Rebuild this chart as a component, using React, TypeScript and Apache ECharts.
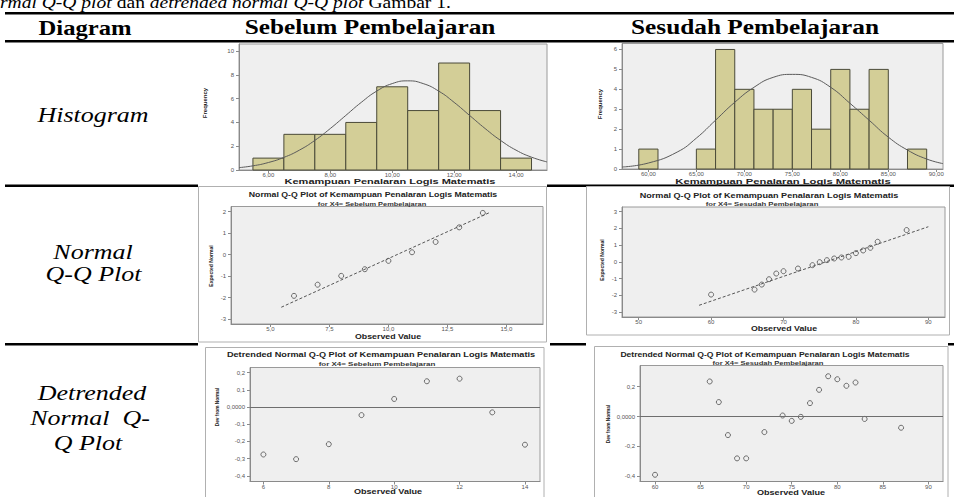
import React, { useEffect, useRef } from "react";
import * as echarts from "echarts";

// ---------- Histogram: Sebelum Pembelajaran ----------
const hist1Centers = [6, 7, 8, 9, 10, 11, 12, 13, 14];
const hist1Counts = [1, 3, 3, 4, 7, 5, 9, 5, 1];
const hist1BinWidth = 1;
const hist1CurveX = [5.05, 5.5, 6, 6.5, 7, 7.5, 8, 8.5, 9, 9.5, 10, 10.5, 11, 11.5, 12, 12.5, 13, 13.5, 14, 14.5, 15];
const hist1CurveY = [0.2, 0.35, 0.63, 1.06, 1.67, 2.49, 3.49, 4.59, 5.69, 6.64, 7.27, 7.5, 7.27, 6.64, 5.69, 4.59, 3.49, 2.49, 1.67, 1.08, 0.68];
const hist1XTicks = [6, 8, 10, 12, 14];
const hist1YTicks = [0, 2, 4, 6, 8, 10];

// ---------- Histogram: Sesudah Pembelajaran ----------
const hist2Centers = [60, 66, 68, 70, 72, 74, 76, 78, 80, 82, 84, 88];
const hist2Counts = [1, 1, 6, 4, 3, 3, 4, 2, 5, 3, 5, 1];
const hist2BinWidth = 2;
const hist2CurveX = [57.25, 60, 63, 65, 67, 69, 71, 73, 75, 77, 79, 81, 83, 85, 87, 89, 90.7];
const hist2CurveY = [0.1, 0.3, 0.85, 1.55, 2.45, 3.35, 4.1, 4.6, 4.75, 4.6, 4.1, 3.3, 2.45, 1.6, 0.95, 0.5, 0.27];
const hist2XTicks = [60, 65, 70, 75, 80, 85, 90];
const hist2YTicks = [0, 1, 2, 3, 4, 5, 6];

// ---------- Normal Q-Q: Sebelum ----------
const qq1Observed = [6, 7, 8, 9, 10, 11, 12, 13, 14];
const qq1Expected = [-1.92, -1.4, -0.99, -0.68, -0.29, 0.11, 0.59, 1.27, 1.94];
const qq1LineX = [5.46, 14.31];
const qq1LineY = [-2.45, 1.97];
const qq1XTicks = [5, 7.5, 10, 12.5, 15];
const qq1YTicks = [-3, -2, -1, 0, 1, 2];

// ---------- Normal Q-Q: Sesudah ----------
const qq2Observed = [60, 66, 67, 68, 69, 70, 72, 74, 75, 76, 77, 78, 79, 80, 81, 82, 83, 87];
const qq2Expected = [-1.96, -1.66, -1.36, -1.04, -0.7, -0.56, -0.4, -0.2, -0.02, 0.1, 0.2, 0.26, 0.3, 0.52, 0.68, 0.84, 1.2, 1.9];
const qq2LineX = [58.34, 90];
const qq2LineY = [-2.6, 2.1];
const qq2XTicks = [50, 60, 70, 80, 90];
const qq2YTicks = [-3, -2, -1, 0, 1, 2, 3];

// ---------- Detrended Normal Q-Q: Sebelum ----------
const det1Observed = [6, 7, 8, 9, 10, 11, 12, 13, 14];
const det1Dev = [-0.276, -0.303, -0.216, -0.047, 0.047, 0.15, 0.165, -0.031, -0.219];
const det1XTicks = [6, 8, 10, 12, 14];
const det1YTicks = [-0.4, -0.3, -0.2, -0.1, 0, 0.1, 0.2];

// ---------- Detrended Normal Q-Q: Sesudah ----------
const det2Observed = [60, 66, 67, 68, 69, 70, 72, 74, 75, 76, 77, 78, 79, 80, 81, 82, 83, 87];
const det2Dev = [-0.39, 0.235, 0.097, -0.124, -0.28, -0.28, -0.104, 0.007, -0.029, -0.002, 0.09, 0.179, 0.27, 0.25, 0.206, 0.228, -0.016, -0.075];
const det2XTicks = [60, 65, 70, 75, 80, 85, 90];
const det2YTicks = [-0.4, -0.2, 0, 0.2];

// ---------- Texts ----------
const headerTexts = ["Diagram", "Sebelum Pembelajaran", "Sesudah Pembelajaran"];
const rowLabels = [["Histogram"], ["Normal", "Q-Q Plot"], ["Detrended", "Normal  Q-", "Q Plot"]];
const xVarName = "Kemampuan Penalaran Logis Matematis";
const qqTitle = "Normal Q-Q Plot of Kemampuan Penalaran Logis Matematis";
const detTitle = "Detrended Normal Q-Q Plot of Kemampuan Penalaran Logis Matematis";
const subSebelum = "for X4= Sebelum Pembelajaran";
const subSesudah = "for X4= Sesudah Pembelajaran";

const SANS = '"Liberation Sans", Arial, sans-serif';
const SERIF = '"Liberation Serif", "Times New Roman", serif';
const BAR = "#d3ce97";
const BAR_EDGE = "#4a4a38";
const PLOT_BG = "#efefef";
const PLOT_BORDER = "#9a9a9a";

const comma = (d: number) => (v: number) => v.toFixed(d).replace(".", ",");
const devFmt = (v: number) => (Math.abs(v) < 1e-9 ? "0,0000" : v.toFixed(1).replace(".", ","));

function xAx(gridIndex: number, min: number, max: number, ticks: number[], fmt: any) {
  return {
    type: "value", gridIndex, min, max,
    splitLine: { show: false },
    axisLine: { show: true, onZero: false, lineStyle: { color: "#8a8a8a", width: 1 } },
    axisTick: { show: true, length: 3, customValues: ticks, lineStyle: { color: "#8a8a8a" } },
    axisLabel: { customValues: ticks, formatter: fmt, fontSize: 6, color: "#555", margin: 2, fontFamily: SANS },
  };
}
function yAx(gridIndex: number, min: number, max: number, ticks: number[], fmt: any) {
  return {
    type: "value", gridIndex, min, max,
    splitLine: { show: false },
    axisLine: { show: true, onZero: false, lineStyle: { color: "#8a8a8a", width: 1 } },
    axisTick: { show: true, length: 3, customValues: ticks, lineStyle: { color: "#8a8a8a" } },
    axisLabel: { customValues: ticks, formatter: fmt, fontSize: 6, color: "#555", margin: 5, fontFamily: SANS },
  };
}

const histRender = (bw: number) => (params: any, api: any) => {
  const c = api.value(0);
  const h = api.value(1);
  const p0 = api.coord([c - bw / 2, h]);
  const p1 = api.coord([c + bw / 2, 0]);
  return {
    type: "rect",
    shape: { x: p0[0], y: p0[1], width: p1[0] - p0[0], height: p1[1] - p0[1] },
    style: { fill: BAR, stroke: BAR_EDGE, lineWidth: 1 },
  };
};

function txt(text: string, x: number, y: number, o: any) {
  return {
    type: "text", x, y, z: 100,
    rotation: o.rot || 0,
    scaleX: o.sx || 1,
    style: {
      text, x: 0, y: 0,
      fill: o.color || "#000",
      fontSize: o.size,
      fontFamily: o.family || SANS,
      fontWeight: o.weight || "normal",
      fontStyle: o.fstyle || "normal",
      textAlign: "center", textVerticalAlign: "middle",
      align: "center", verticalAlign: "middle",
    },
  };
}
function hline(x0: number, x1: number, y: number, h: number) {
  return { type: "rect", z: -5, shape: { x: x0, y, width: x1 - x0, height: h }, style: { fill: "#000" } };
}
function frame(x: number, y: number, w: number, h: number) {
  return { type: "rect", z: -4, shape: { x, y, width: w, height: h }, style: { fill: "#fff", stroke: "#b0b0b0", lineWidth: 1 } };
}

export default function App() {
  const ref = useRef<HTMLDivElement>(null);
  useEffect(() => {
    if (!ref.current) return;
    const chart = echarts.init(ref.current, undefined, { renderer: "svg" });
    const pairs = (xs: number[], ys: number[]) => xs.map((x, i) => [x, ys[i]]);

    const graphics: any[] = [
      // table rules
      hline(5, 954, 12, 2.5),
      hline(5, 954, 40, 2.5),
      hline(5, 198, 184.5, 2.5),
      hline(547, 954, 184.5, 2.5),
      hline(5, 198, 343, 2.5),
      hline(550, 586, 343, 2.5),
      hline(948, 954, 343, 2.5),
      // chart frames
      frame(198.5, 186.5, 348, 155.5),
      frame(586.5, 186.5, 363, 148.5),
      frame(205.5, 347.5, 338.5, 160),
      frame(594.5, 346.5, 353.5, 160),
      // top clipped caption (continues from the previous line in the source page)
      {
        type: "text", x: 0, y: 11, z: 100, scaleX: 1.15,
        style: {
          text: "{i|rmal Q-Q plot} dan {i|detrended normal Q-Q plot} Gambar 1.",
          fontSize: 17, fontFamily: SERIF, fill: "#000",
          textAlign: "left", textVerticalAlign: "bottom", align: "left", verticalAlign: "bottom",
          rich: { i: { fontStyle: "italic", fontSize: 17, fontFamily: SERIF } },
        },
      },
      // headers
      txt(headerTexts[0], 85, 27, { size: 22, family: SERIF, weight: "bold", sx: 1.12 }),
      txt(headerTexts[1], 370, 27, { size: 22, family: SERIF, weight: "bold", sx: 1.15 }),
      txt(headerTexts[2], 755, 27, { size: 22, family: SERIF, weight: "bold", sx: 1.15 }),
      // row labels
      txt(rowLabels[0][0], 93, 115, { size: 22, family: SERIF, fstyle: "italic", sx: 1.18 }),
      txt(rowLabels[1][0], 93, 252, { size: 22, family: SERIF, fstyle: "italic", sx: 1.18 }),
      txt(rowLabels[1][1], 93.5, 274, { size: 22, family: SERIF, fstyle: "italic", sx: 1.18 }),
      txt(rowLabels[2][0], 92, 393, { size: 22, family: SERIF, fstyle: "italic", sx: 1.18 }),
      txt(rowLabels[2][1], 90, 418, { size: 22, family: SERIF, fstyle: "italic", sx: 1.18 }),
      txt(rowLabels[2][2], 88, 443, { size: 22, family: SERIF, fstyle: "italic", sx: 1.18 }),
      // histogram texts
      txt(xVarName, 390, 181.5, { size: 7.5, weight: "bold", sx: 1.47, color: "#222" }),
      txt(xVarName, 783, 181.5, { size: 7.5, weight: "bold", sx: 1.5, color: "#222" }),
      txt("Frequency", 205, 103, { size: 6, weight: "bold", rot: Math.PI / 2, color: "#222" }),
      txt("Frequency", 600, 104, { size: 6, weight: "bold", rot: Math.PI / 2, color: "#222" }),
      // QQ1 texts
      txt(qqTitle, 373, 195, { size: 7, weight: "bold", sx: 1.25, color: "#222" }),
      txt(subSebelum, 372, 203.5, { size: 5.5, weight: "bold", sx: 1.35, color: "#333" }),
      txt("Observed Value", 388, 336.5, { size: 7, weight: "bold", sx: 1.26, color: "#222" }),
      txt("Expected Normal", 211, 266, { size: 6, weight: "bold", rot: Math.PI / 2, sx: 0.85, color: "#222" }),
      // QQ2 texts
      txt(qqTitle, 769, 196, { size: 7, weight: "bold", sx: 1.3, color: "#222" }),
      txt(subSesudah, 762, 203.5, { size: 5.5, weight: "bold", sx: 1.4, color: "#333" }),
      txt("Observed Value", 784, 328.5, { size: 7, weight: "bold", sx: 1.26, color: "#222" }),
      txt("Expected Normal", 602, 260, { size: 6, weight: "bold", rot: Math.PI / 2, sx: 0.85, color: "#222" }),
      // Det1 texts
      txt(detTitle, 381, 355, { size: 7, weight: "bold", sx: 1.31, color: "#222" }),
      txt(subSebelum, 377, 364, { size: 5.5, weight: "bold", sx: 1.45, color: "#333" }),
      txt("Observed Value", 388, 491.5, { size: 7, weight: "bold", sx: 1.3, color: "#222" }),
      txt("Dev from Normal", 217, 407, { size: 6, weight: "bold", rot: Math.PI / 2, sx: 0.8, color: "#222" }),
      // Det2 texts
      txt(detTitle, 765, 355, { size: 7, weight: "bold", sx: 1.23, color: "#222" }),
      txt(subSesudah, 768, 363, { size: 5.5, weight: "bold", sx: 1.38, color: "#333" }),
      txt("Observed Value", 791, 492.5, { size: 7, weight: "bold", sx: 1.3, color: "#222" }),
      txt("Dev from Normal", 608, 424, { size: 6, weight: "bold", rot: Math.PI / 2, sx: 0.8, color: "#222" }),
    ];

    const gridBase = { show: true, backgroundColor: PLOT_BG, borderColor: PLOT_BORDER, borderWidth: 1, containLabel: false };
    const pointStyle = { color: "rgba(0,0,0,0)", borderColor: "#3a3a3a", borderWidth: 0.9 };
    const zeroLine = {
      silent: true, symbol: ["none", "none"], label: { show: false },
      lineStyle: { color: "#6e6e6e", type: "solid", width: 1 },
      data: [{ yAxis: 0 }],
    };

    chart.setOption({
      animation: false,
      backgroundColor: "#ffffff",
      graphic: graphics,
      grid: [
        { ...gridBase, left: 239, top: 44, width: 308, height: 126 },
        { ...gridBase, left: 622, top: 43.5, width: 321, height: 125.5 },
        { ...gridBase, left: 231, top: 206.5, width: 312, height: 117.5 },
        { ...gridBase, left: 622, top: 207, width: 323, height: 110 },
        { ...gridBase, left: 250, top: 367.5, width: 290, height: 114 },
        { ...gridBase, left: 640, top: 365.5, width: 303, height: 116 },
      ],
      xAxis: [
        xAx(0, 5.05, 15, hist1XTicks, comma(2)),
        xAx(1, 57.25, 90.7, hist2XTicks, comma(2)),
        xAx(2, 3.33, 16.55, qq1XTicks, comma(1)),
        xAx(3, 47.7, 92.3, qq2XTicks, comma(0)),
        xAx(4, 5.59, 14.46, det1XTicks, comma(0)),
        xAx(5, 58.35, 91.6, det2XTicks, comma(0)),
      ],
      yAxis: [
        yAx(0, 0, 10.6, hist1YTicks, comma(0)),
        yAx(1, 0, 6.3, hist2YTicks, comma(0)),
        yAx(2, -3.23, 2.24, qq1YTicks, comma(0)),
        yAx(3, -3.3, 3.28, qq2YTicks, comma(0)),
        yAx(4, -0.433, 0.23, det1YTicks, devFmt),
        yAx(5, -0.435, 0.342, det2YTicks, devFmt),
      ],
      series: [
        { type: "custom", xAxisIndex: 0, yAxisIndex: 0, renderItem: histRender(hist1BinWidth), data: pairs(hist1Centers, hist1Counts), z: 2 },
        { type: "line", xAxisIndex: 0, yAxisIndex: 0, data: pairs(hist1CurveX, hist1CurveY), smooth: true, showSymbol: false, symbol: "none", lineStyle: { color: "#5a5a5a", width: 1 }, z: 3 },
        { type: "custom", xAxisIndex: 1, yAxisIndex: 1, renderItem: histRender(hist2BinWidth), data: pairs(hist2Centers, hist2Counts), z: 2 },
        { type: "line", xAxisIndex: 1, yAxisIndex: 1, data: pairs(hist2CurveX, hist2CurveY), smooth: true, showSymbol: false, symbol: "none", lineStyle: { color: "#5a5a5a", width: 1 }, z: 3 },
        { type: "line", xAxisIndex: 2, yAxisIndex: 2, data: pairs(qq1LineX, qq1LineY), showSymbol: false, symbol: "none", lineStyle: { color: "#555", width: 1, type: [3, 2] } },
        { type: "scatter", xAxisIndex: 2, yAxisIndex: 2, data: pairs(qq1Observed, qq1Expected), symbol: "circle", symbolSize: 5, itemStyle: pointStyle },
        { type: "line", xAxisIndex: 3, yAxisIndex: 3, data: pairs(qq2LineX, qq2LineY), showSymbol: false, symbol: "none", lineStyle: { color: "#555", width: 1, type: [3, 2] } },
        { type: "scatter", xAxisIndex: 3, yAxisIndex: 3, data: pairs(qq2Observed, qq2Expected), symbol: "circle", symbolSize: 5, itemStyle: pointStyle },
        { type: "scatter", xAxisIndex: 4, yAxisIndex: 4, data: pairs(det1Observed, det1Dev), symbol: "circle", symbolSize: 5, itemStyle: pointStyle, markLine: zeroLine },
        { type: "scatter", xAxisIndex: 5, yAxisIndex: 5, data: pairs(det2Observed, det2Dev), symbol: "circle", symbolSize: 5, itemStyle: pointStyle, markLine: zeroLine },
      ],
    });
    return () => chart.dispose();
  }, []);

  return <div ref={ref} style={{ position: "absolute", left: 0, top: 0, width: 954, height: 497 }} />;
}
